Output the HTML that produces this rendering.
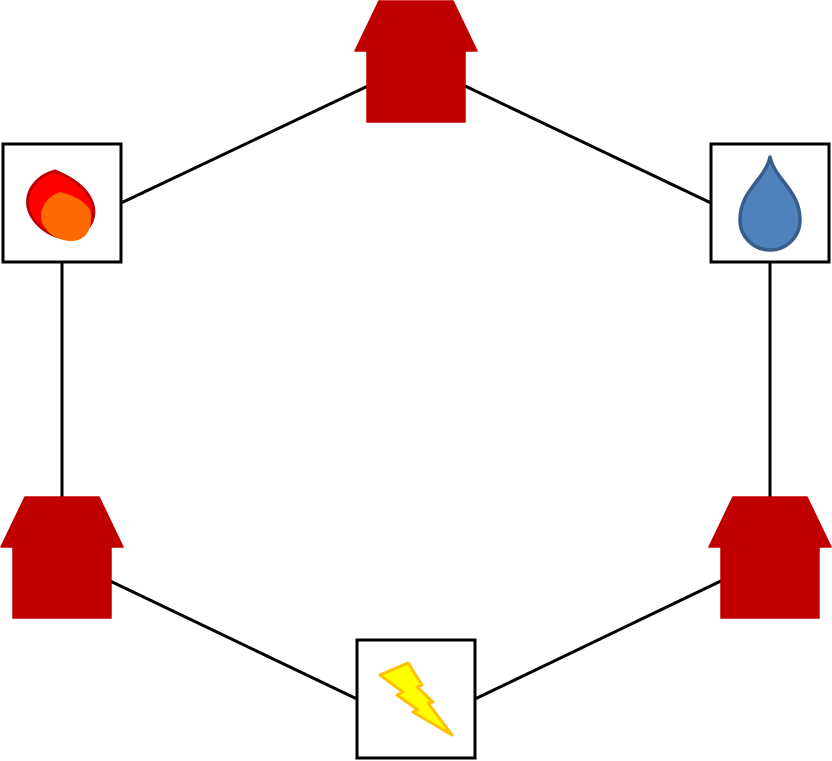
<!DOCTYPE html>
<html><head><style>html,body{margin:0;padding:0;background:#fff;}svg{display:block}</style></head>
<body>
<svg width="832" height="761" viewBox="0 0 832 761" xmlns="http://www.w3.org/2000/svg">
<defs>
<g id="house"><path d="M24,0 H98 L122,50 H110 V121 H12 V50 H0 Z" fill="#c00000" stroke="#c00000" stroke-width="1.5" stroke-linejoin="round"/></g>
</defs>
<g stroke="#000" stroke-width="3" fill="none">
<line x1="121" y1="203" x2="370" y2="85"/>
<line x1="463" y1="85" x2="711" y2="203"/>
<line x1="62" y1="262" x2="62" y2="497"/>
<line x1="770" y1="262" x2="770" y2="497"/>
<line x1="108" y1="580" x2="357" y2="699"/>
<line x1="475" y1="699" x2="723" y2="580"/>
</g>
<use href="#house" x="355" y="1"/>
<use href="#house" x="1" y="497"/>
<use href="#house" x="709" y="497"/>
<g fill="#fff" stroke="#000" stroke-width="3">
<rect x="3" y="144" width="118" height="118"/>
<rect x="711" y="144" width="118" height="118"/>
<rect x="357" y="640" width="118" height="118"/>
</g>
<!-- fire -->
<path d="M55,171 C40,175 25,188 28,207 C32,226 55,240 70,238 C85,236 97,222 93,205 C88,188 72,178 55,171 Z" fill="#ff0000" stroke="#c00000" stroke-width="3"/>
<path d="M60,192 C48,196 38,208 42,222 C47,236 65,244 78,240 C90,236 93,222 90,210 C84,200 72,195 60,192 Z" fill="#ff6a00"/>
<!-- water -->
<path d="M770,157 C765,180 740,190 740,220 A30,30 0 0 0 800,220 C800,190 775,180 770,157 Z" fill="#4f81bd" stroke="#385d8a" stroke-width="3.5" stroke-linejoin="round"/>
<!-- lightning -->
<path d="M380,675 L408,663 L422,685 L417,687 L433,702 L428,703 L452,735 L413,712 L418,710 L397,695 L403,692 Z" fill="#ffff00" stroke="#ffc000" stroke-width="3" stroke-linejoin="round"/>
</svg>
</body></html>
